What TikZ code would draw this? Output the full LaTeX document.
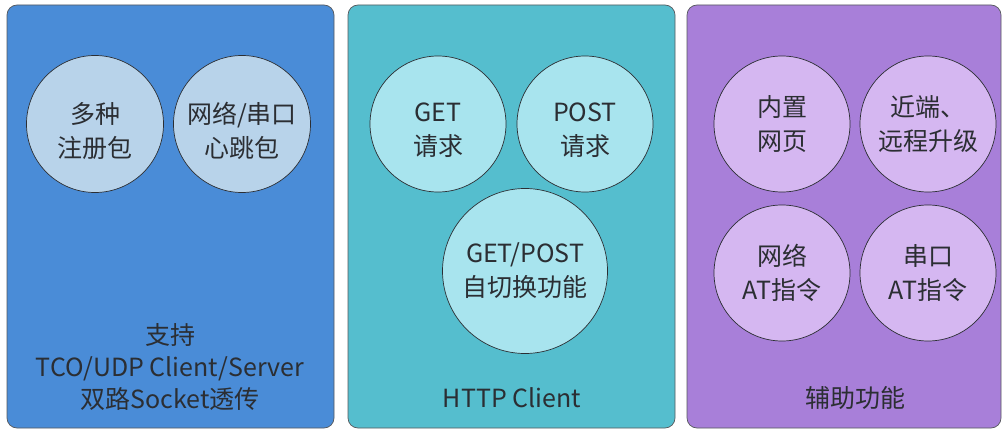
\documentclass[tikz,border=0pt]{standalone}
\usepackage{fontspec}
\setmainfont{Noto Sans CJK SC}
\usetikzlibrary{positioning}
\definecolor{bluebg}{HTML}{4A8CD7}
\definecolor{bluec}{HTML}{B8D3EA}
\definecolor{tealbg}{HTML}{55BECE}
\definecolor{tealc}{HTML}{A8E4EE}
\definecolor{purpbg}{HTML}{A87FD9}
\definecolor{purpc}{HTML}{D5B7F1}
\definecolor{inkc}{HTML}{2B2E33}

\begin{document}
\begin{tikzpicture}[x=1pt,y=-1pt,
    panel/.style={draw=inkc!80,line width=0.7pt,rounded corners=10pt},
    bubtext/.style={text=inkc,align=center,font=\fontsize{25}{34}\selectfont},
    bubble/.style={bubtext,circle,draw=inkc,line width=0.7pt,inner sep=0pt},
    title/.style={text=inkc,align=center,font=\fontsize{25}{32}\selectfont}]
    \useasboundingbox (0,0) rectangle (1003,430);
    % three panels
    \draw[panel,fill=bluebg] (7,5) rectangle (334,428);
    \draw[panel,fill=tealbg] (348,5) rectangle (675,428);
    \draw[panel,fill=purpbg] (687,5) rectangle (1001,428);
    % socket panel
    \node[bubble,fill=bluec,minimum size=137pt] (reg) at (95,124) {};
    \node[bubble,fill=bluec,minimum size=137pt] (beat) at (242,124) {};
    \node[bubtext] (regtxt) at ([yshift=-7pt]reg) {多种\\注册包};
    \node[bubtext] (beattxt) at ([yshift=-7pt]beat) {网络/串口\\心跳包};
    \node[title] (sock) at (170,367) {支持\\TCO/UDP Client/Server\\双路Socket透传};
    % http panel
    \node[bubble,fill=tealc,minimum size=136pt] (get) at (438,124) {};
    \node[bubble,fill=tealc,minimum size=136pt] (post) at (585,124) {};
    \node[bubtext] (gettxt) at ([yshift=-6pt]get) {GET\\请求};
    \node[bubtext] (posttxt) at ([yshift=-6pt]post) {POST\\请求};
    \node[bubble,fill=tealc,minimum size=165pt] (auto) at (525,271) {GET/POST\\自切换功能};
    \node[title] (http) at (512,398) {HTTP Client};
    % extra functions panel
    \node[bubble,fill=purpc,minimum size=136pt] (web) at (782,124) {内置\\网页};
    \node[bubble,fill=purpc,minimum size=136pt] (ota) at (928,124) {近端、\\远程升级};
    \node[bubble,fill=purpc,minimum size=136pt] (netat) at (782,273) {网络\\AT指令};
    \node[bubble,fill=purpc,minimum size=136pt] (comat) at (928,273) {串口\\AT指令};
    \node[title] (aux) at (855,398) {辅助功能};
\end{tikzpicture}
\end{document}
